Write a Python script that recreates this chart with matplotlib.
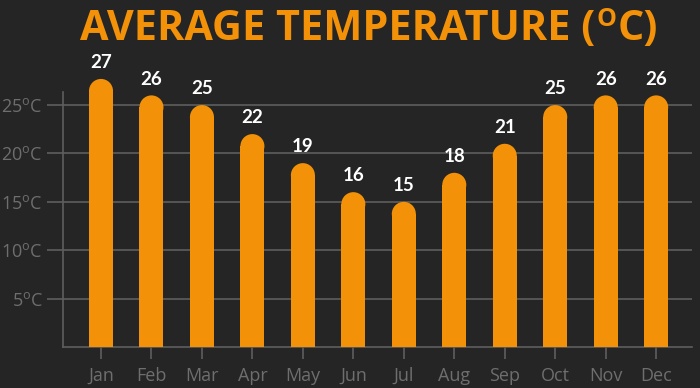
import numpy as np
import matplotlib
matplotlib.use('Agg')
import matplotlib.pyplot as plt
from matplotlib.patches import Ellipse

# data
months = ['Jan', 'Feb', 'Mar', 'Apr', 'May', 'Jun',
          'Jul', 'Aug', 'Sep', 'Oct', 'Nov', 'Dec']
temps = [27, 26, 25, 22, 19, 16, 15, 18, 21, 25, 26, 26]
# Jan's bar is drawn a little taller than its label says
heights = [27.7, 26, 25, 22, 19, 16, 15, 18, 21, 25, 26, 26]
yticks = [5, 10, 15, 20, 25]

bg = '#252525'
orange = '#f39208'
grey = '#5e5e5e'
text_grey = '#6e6e6e'

plt.rcParams['mathtext.fontset'] = 'custom'
plt.rcParams['mathtext.rm'] = 'Open Sans'

fig = plt.figure(figsize=(7, 3.88), dpi=100, facecolor=bg)
ax = fig.add_axes([63 / 700, 41 / 388, 629 / 700, 255 / 388], facecolor=bg)

x = np.arange(len(months))
width = 0.476
ymax = 26.35
ax.set_xlim(-0.753, 11.71)
ax.set_ylim(0, ymax)

# radius of the rounded cap in data units (y direction)
px_per_y = 255 / ymax
ry = 12 / px_per_y

for xi, h, t in zip(x, heights, temps):
    ax.bar(xi, h - ry, width=width, color=orange, clip_on=False, zorder=3)
    ax.add_patch(Ellipse((xi, h - ry), width, 2 * ry, color=orange,
                         clip_on=False, zorder=3, lw=0))
    ax.text(xi, h + 0.8, str(t), ha='center', va='bottom', color='white',
            fontsize=13.5, fontweight='bold', family='Lato')

ax.set_yticks(yticks)
ax.set_yticklabels([r'%d$^{\mathrm{o}}$C' % v for v in yticks])
ax.set_xticks(x)
ax.set_xticklabels(months)
ax.grid(axis='y', color=grey, lw=1.2, zorder=0)

for s in ['top', 'right']:
    ax.spines[s].set_visible(False)
for s in ['left', 'bottom']:
    ax.spines[s].set_color(grey)
    ax.spines[s].set_linewidth(1.2)

ax.tick_params(axis='y', length=11.5, width=1.2, color=grey, pad=3,
               labelcolor=text_grey, labelsize=13)
ax.tick_params(axis='x', length=8.6, width=1.2, color=grey, pad=6,
               labelcolor=text_grey, labelsize=13)
for lab in ax.get_xticklabels() + ax.get_yticklabels():
    lab.set_family('Open Sans')

# title built from pieces so the small raised "O" sits at cap height
tstyle = dict(color=orange, fontweight='bold', family='Open Sans')
base_y = 1 - 40 / 388
r = fig.canvas.get_renderer()
t1 = fig.text(80 / 700, base_y, 'AVERAGE TEMPERATURE (', ha='left',
              va='baseline', fontsize=29.8, **tstyle)
x1 = t1.get_window_extent(r).x1 / fig.bbox.width
t2 = fig.text(x1 + 1 / 700, 1 - 26 / 388, 'O', ha='left', va='baseline',
              fontsize=18, **tstyle)
x2 = t2.get_window_extent(r).x1 / fig.bbox.width
fig.text(x2 + 1 / 700, base_y, 'C)', ha='left', va='baseline',
         fontsize=29.8, **tstyle)

fig.savefig('out.png', dpi=100, facecolor=bg)
